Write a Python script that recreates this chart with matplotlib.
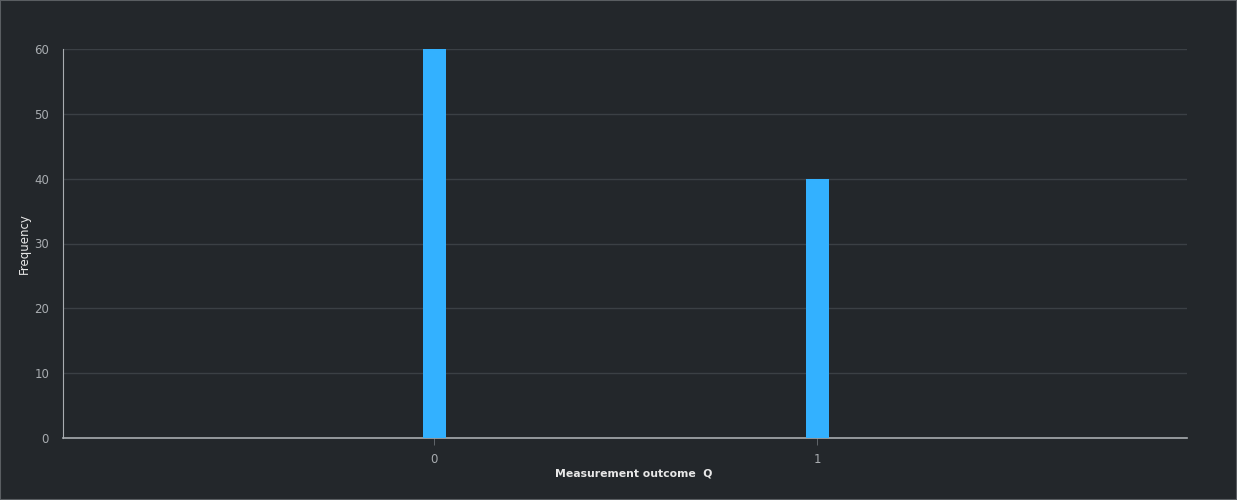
import matplotlib
matplotlib.use("Agg")
import matplotlib.pyplot as plt
from matplotlib.patches import Rectangle

outcomes = [0, 1]
counts = [60, 40]
yticks = [0, 10, 20, 30, 40, 50, 60]

bg = '#23272b'
fig = plt.figure(figsize=(12.37, 5.0), dpi=100, facecolor=bg)
ax = fig.add_axes([63 / 1237, 62 / 500, 1124 / 1237, 389 / 500])
ax.set_facecolor(bg)

ax.bar(outcomes, counts, width=0.06, color='#33b1ff', zorder=3)

ax.set_xlim(-0.969, 1.966)
ax.set_ylim(0, 60)
ax.set_xticks(outcomes)
ax.set_yticks(yticks)
ax.grid(axis='y', color='#3b4045', linewidth=1, zorder=0)

for s in ['top', 'right']:
    ax.spines[s].set_visible(False)
ax.spines['left'].set_color('#a8acb0')
ax.spines['bottom'].set_color('#a8acb0')
ax.spines['bottom'].set_linewidth(1.2)

ax.tick_params(axis='y', length=0, pad=10, labelsize=8.5, labelcolor='#a8acb0')
ax.tick_params(axis='x', length=5, width=0.6, color='#6a6f74', pad=6,
               labelsize=8.5, labelcolor='#a8acb0')

ax.set_ylabel('Frequency', color='#e8e8e8', fontsize=8.5)
ax.yaxis.set_label_coords(-0.0347, 0.5)
ax.yaxis.label.set_va('center')
ax.set_xlabel('Measurement outcome  Q', color='#e8e8e8', fontsize=7.8,
              fontweight='semibold')
ax.xaxis.set_label_coords(0.508, -0.0925)
ax.xaxis.label.set_va('center')

# thin frame around the figure
fig.patches.append(Rectangle((0, 0), 1, 1, transform=fig.transFigure,
                             fill=False, edgecolor='#5a5e62', linewidth=1.5))

fig.savefig('out.png', facecolor=bg)
